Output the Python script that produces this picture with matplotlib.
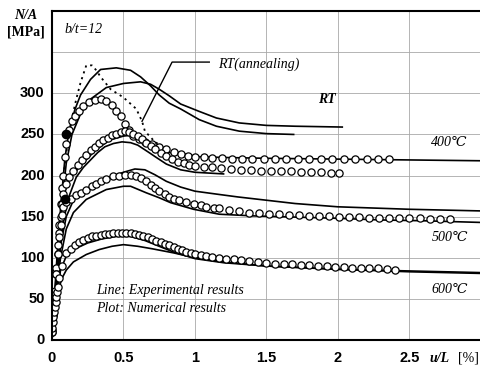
import matplotlib
matplotlib.use("Agg")
import matplotlib.pyplot as plt

# RT experimental lines
rt_a_x = [0, 0.03, 0.06, 0.09, 0.12, 0.16, 0.20, 0.27, 0.34, 0.45, 0.55, 0.62, 0.69, 0.75, 0.82, 0.90, 1.03, 1.15, 1.31, 1.50, 1.69]
rt_a_y = [0, 80, 160, 220, 255, 280, 298, 317, 329, 331, 328, 320, 309, 298, 288, 281, 268, 260, 254, 251, 250]
rt_b_x = [0, 0.03, 0.06, 0.10, 0.14, 0.20, 0.27, 0.38, 0.50, 0.62, 0.69, 0.75, 0.82, 0.90, 1.03, 1.15, 1.31, 1.50, 1.70, 2.03]
rt_b_y = [0, 70, 150, 215, 250, 275, 293, 307, 312, 314, 311, 305, 297, 287, 278, 270, 264, 261, 260, 259]
# RT (annealing), dotted
rt_ann_x = [0.08, 0.11, 0.14, 0.17, 0.20, 0.24, 0.28, 0.31, 0.34, 0.41, 0.50, 0.59, 0.63, 0.65, 0.72, 0.80, 0.90, 1.00, 1.10, 1.20]
rt_ann_y = [200, 240, 270, 293, 313, 334, 334, 328, 320, 305, 295, 281, 266, 254, 241, 232, 227, 224, 222, 221]
# RT numerical
rt_num_x = [0.00, 0.01, 0.02, 0.03, 0.04, 0.05, 0.06, 0.07, 0.08, 0.09, 0.10, 0.12, 0.14, 0.16, 0.19, 0.22, 0.26,
            0.30, 0.34, 0.38, 0.42, 0.45, 0.48, 0.51, 0.54, 0.57, 0.61, 0.65, 0.70, 0.75, 0.80, 0.85, 0.90, 0.95,
            1.00, 1.06, 1.12, 1.19, 1.26, 1.33, 1.40, 1.48, 1.56, 1.64, 1.72, 1.80, 1.88, 1.96, 2.04, 2.12, 2.20,
            2.28, 2.36]
rt_num_y = [12, 35, 60, 88, 115, 140, 165, 185, 200, 223, 238, 256, 266, 272, 279, 285, 290,
            292, 293, 291, 286, 279, 272, 263, 255, 248, 244, 241, 238, 235, 232, 229, 226, 224,
            223, 222, 221, 221, 220, 220, 220, 220, 220, 220, 220, 220, 220, 220, 220, 220, 220,
            220, 220]

# 400 C
t400_a_x = [0, 0.02, 0.05, 0.08, 0.12, 0.20, 0.30, 0.40, 0.50, 0.55, 0.60, 0.70, 0.80, 0.90, 1.00, 1.20, 1.50, 2.00, 2.50, 3.00]
t400_a_y = [0, 60, 140, 175, 195, 212, 230, 243, 248, 249, 246, 236, 229, 225, 223, 222, 221, 220, 219, 218]
t400_b_x = [0, 0.02, 0.05, 0.08, 0.12, 0.17, 0.22, 0.27, 0.32, 0.37, 0.43, 0.49, 0.55, 0.60, 0.67, 0.73, 0.80, 0.90, 1.00, 1.10, 1.20]
t400_b_y = [0, 40, 100, 145, 175, 198, 210, 219, 228, 235, 239, 241, 240, 237, 229, 222, 214, 207, 204, 203, 202]
t400_num_x = [0.00, 0.01, 0.02, 0.03, 0.04, 0.05, 0.06, 0.07, 0.08, 0.10, 0.12, 0.15, 0.18, 0.21, 0.24, 0.27, 0.30,
              0.33, 0.36, 0.39, 0.42, 0.45, 0.48, 0.51, 0.54, 0.57, 0.60, 0.63, 0.66, 0.69, 0.72, 0.76, 0.80, 0.84,
              0.88, 0.92, 0.96, 1.00, 1.06, 1.12, 1.18, 1.25, 1.32, 1.39, 1.46, 1.53, 1.60, 1.67, 1.74, 1.81, 1.88,
              1.95, 2.01]
t400_num_y = [10, 30, 55, 80, 105, 130, 150, 165, 178, 190, 198, 206, 213, 219, 225, 231, 235,
              239, 243, 246, 249, 251, 253, 254, 253, 251, 248, 244, 240, 236, 232, 228, 224, 220,
              217, 215, 213, 212, 211, 210, 209, 208, 207, 207, 206, 206, 205, 205, 204, 204, 204,
              203, 203]

# 500 C
t500_a_x = [0, 0.03, 0.06, 0.10, 0.15, 0.20, 0.30, 0.40, 0.50, 0.58, 0.65, 0.72, 0.80, 0.90, 1.00, 1.17, 1.30, 1.50, 1.70, 2.00, 2.50, 3.00]
t500_a_y = [0, 60, 115, 150, 170, 180, 190, 198, 204, 208, 207, 201, 193, 186, 181, 177, 174, 170, 166, 162, 159, 157]
t500_b_x = [0, 0.03, 0.06, 0.10, 0.15, 0.24, 0.38, 0.50, 0.55, 0.66, 0.75, 0.83, 0.99, 1.17, 1.40, 1.60, 2.00, 2.30, 2.60, 3.00]
t500_b_y = [0, 55, 100, 135, 155, 171, 183, 187, 187, 179, 173, 167, 159, 153, 151, 150, 148, 146, 145, 143]
t500_num_x = [0.00, 0.01, 0.02, 0.03, 0.04, 0.05, 0.06, 0.07, 0.08, 0.10, 0.13, 0.17, 0.20, 0.24, 0.28, 0.31, 0.34,
              0.38, 0.43, 0.47, 0.51, 0.55, 0.59, 0.62, 0.66, 0.69, 0.72, 0.75, 0.79, 0.82, 0.85, 0.89, 0.94, 0.99,
              1.04, 1.08, 1.13, 1.17, 1.24, 1.31, 1.38, 1.45, 1.52, 1.59, 1.66, 1.73, 1.80, 1.87, 1.94, 2.01, 2.08,
              2.15, 2.22, 2.29, 2.36, 2.43, 2.50, 2.57, 2.64, 2.71, 2.78]
t500_num_y = [10, 30, 55, 80, 105, 125, 140, 152, 162, 168, 172, 176, 179, 183, 187, 190, 193,
              196, 199, 200, 201, 201, 199, 197, 193, 189, 185, 181, 177, 174, 172, 170, 168, 166,
              164, 162, 161, 160, 158, 157, 155, 154, 153, 153, 152, 152, 151, 151, 151, 150, 150,
              150, 149, 149, 149, 148, 148, 148, 147, 147, 147]

# 600 C
t600_a_x = [0, 0.03, 0.06, 0.10, 0.15, 0.25, 0.35, 0.45, 0.55, 0.65, 0.75, 0.85, 1.00, 1.20, 1.50, 2.00, 2.50, 3.00]
t600_a_y = [0, 50, 85, 102, 110, 118, 123, 126, 126, 121, 114, 107, 99, 94, 90, 86, 84, 82]
t600_b_x = [0, 0.01, 0.02, 0.04, 0.07, 0.10, 0.15, 0.24, 0.33, 0.42, 0.50, 0.60, 0.70, 0.85, 1.00, 1.20, 1.50, 2.00, 2.50, 3.00]
t600_b_y = [0, 20, 38, 58, 75, 85, 95, 104, 110, 114, 116, 114, 111, 106, 100, 95, 90, 86, 83, 81]
t600_num_x = [0.000, 0.005, 0.010, 0.015, 0.020, 0.025, 0.030, 0.035, 0.040, 0.050, 0.070, 0.100, 0.130, 0.160,
              0.190, 0.220, 0.250, 0.280, 0.310, 0.340, 0.370, 0.400, 0.430, 0.460, 0.490, 0.520, 0.550, 0.580,
              0.610, 0.640, 0.670, 0.700, 0.730, 0.760, 0.790, 0.820, 0.850, 0.880, 0.910, 0.940, 0.970, 1.000,
              1.040, 1.080, 1.120, 1.170, 1.220, 1.270, 1.320, 1.380, 1.440, 1.500, 1.560, 1.620, 1.680, 1.740,
              1.800, 1.860, 1.920, 1.980, 2.040, 2.100, 2.160, 2.220, 2.280, 2.340, 2.400]
t600_num_y = [15, 22, 28, 34, 40, 46, 52, 58, 64, 75, 90, 106, 111, 116, 119, 122, 124, 126, 127, 128,
              129, 129, 130, 130, 130, 130, 130, 129, 128, 127, 125, 123, 121, 119, 117, 115, 113, 111,
              109, 107, 106, 105, 104, 102, 101, 100, 99, 98, 97, 96, 95, 94, 93, 92, 92, 91, 91, 90,
              90, 89, 89, 88, 88, 87, 87, 86, 85]

# filled dots on the numerical curves
dot_x = [0.10, 0.09]
dot_y = [251, 172]

yticks = [0, 50, 100, 150, 200, 250, 300]
xticks = [0, 0.5, 1, 1.5, 2, 2.5]
xtick_labels = ["0", "0.5", "1", "1.5", "2", "2.5"]

serif = ["Liberation Serif", "DejaVu Serif"]

fig = plt.figure(figsize=(4.81, 3.70), dpi=100)
ax = fig.add_axes([0.108, 0.081, 0.892, 0.889])

line_kw = dict(color="black", lw=1.2)
circ_kw = dict(ls="none", marker="o", ms=5.2, mfc="white", mec="black", mew=0.9)

for xs, ys in [(rt_a_x, rt_a_y), (rt_b_x, rt_b_y), (t400_a_x, t400_a_y), (t400_b_x, t400_b_y),
               (t500_a_x, t500_a_y), (t500_b_x, t500_b_y), (t600_a_x, t600_a_y), (t600_b_x, t600_b_y)]:
    ax.plot(xs, ys, **line_kw)
ax.plot(rt_ann_x, rt_ann_y, color="black", lw=1.3, ls=(0, (1.2, 2.2)))

for xs, ys in [(rt_num_x, rt_num_y), (t400_num_x, t400_num_y), (t500_num_x, t500_num_y), (t600_num_x, t600_num_y)]:
    ax.plot(xs, ys, **circ_kw)
ax.plot(dot_x, dot_y, ls="none", marker="o", ms=6, color="black")

ax.set_xlim(0, 3.0)
ax.set_ylim(0, 400)
ax.set_xticks([0.5, 1, 1.5, 2, 2.5])
ax.set_yticks([50, 100, 150, 200, 250, 300, 350])
ax.grid(True, color="#a8a8a8", lw=0.6)
ax.set_xticklabels([])
ax.set_yticklabels([])
ax.tick_params(length=0)

# tick labels drawn as text so 0 sits at the corner
for v in yticks:
    ax.text(-0.05, v, str(v), ha="right", va="center", fontsize=10.5, fontweight="bold",
            family="Liberation Sans", clip_on=False)
for v, lab in zip(xticks, xtick_labels):
    ax.text(v, -22, lab, ha="center", va="center", fontsize=10.5, fontweight="bold",
            family="Liberation Sans", clip_on=False)

for s in ["left", "bottom", "top"]:
    ax.spines[s].set_linewidth(1.5)
ax.spines["right"].set_visible(False)

fig.text(0.054, 0.957, "N/A", ha="center", va="center", fontsize=10, style="italic", fontweight="bold", family=serif)
fig.text(0.054, 0.913, "[MPa]", ha="center", va="center", fontsize=10, fontweight="bold", family=serif)
ax.text(2.64, -22, "u/L", ha="left", va="center", fontsize=10, style="italic", fontweight="bold",
        family=serif, clip_on=False)
ax.text(2.985, -22, "[%]", ha="right", va="center", fontsize=10, family=serif, clip_on=False)

ax.text(0.09, 378, "b/t=12", fontsize=10, style="italic", family=serif, va="center")
ax.text(1.16, 335, "RT(annealing)", fontsize=10, style="italic", family=serif, va="center")
ax.plot([1.10, 0.84, 0.63], [338, 338, 266], color="black", lw=1.0)
ax.text(1.86, 293, "RT", fontsize=10, style="italic", fontweight="bold", family=serif, va="center")
ax.text(2.78, 240, "400℃", fontsize=10, style="italic", family=serif, ha="center", va="center")
ax.text(2.78, 125, "500℃", fontsize=10, style="italic", family=serif, ha="center", va="center")
ax.text(2.78, 61, "600℃", fontsize=10, style="italic", family=serif, ha="center", va="center")
ax.text(0.31, 60, "Line: Experimental results", fontsize=10, style="italic", family=serif, va="center")
ax.text(0.31, 38, "Plot: Numerical results", fontsize=10, style="italic", family=serif, va="center")

fig.savefig("out.png", dpi=100)
